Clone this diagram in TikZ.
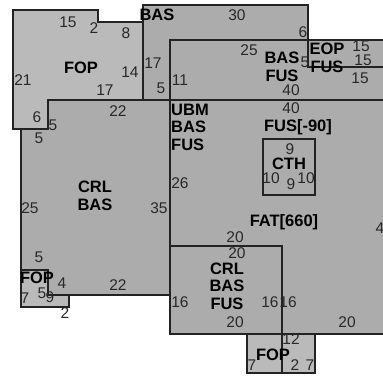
\documentclass[tikz,border=0pt]{standalone}
\usepackage{fontspec}
\setmainfont{Liberation Sans}
\definecolor{partfill}{RGB}{172,172,172}
\definecolor{fopfill}{RGB}{186,186,186}
\definecolor{edge}{RGB}{35,35,35}
\definecolor{dimtext}{RGB}{40,40,40}

\begin{document}
\begin{tikzpicture}[x=1pt, y=-1pt,
    block/.style={draw=edge, line width=1.1pt, fill=partfill},
    fopblock/.style={block, fill=fopfill},
    lbl/.style={font=\fontsize{16.5}{17.5}\selectfont\bfseries, align=center, inner sep=0pt},
    dim/.style={font=\fontsize{15.5}{15.5}\selectfont, text=dimtext, inner sep=0pt}]

    \clip (0,0) rectangle (383,376);
    \fill[white] (0,0) rectangle (383,376);

    % blocks, back to front
    \draw[block] (143,5) rectangle (308,100);
    \draw[block] (21,100) rectangle (170,295);
    \draw[fopblock] (13,10) -- (98,10) -- (98,22) -- (143,22) -- (143,100)
        -- (48,100) -- (48,129) -- (13,129) -- cycle;
    \draw[fopblock] (21,270) -- (48,270) -- (48,295) -- (69,295) -- (69,307)
        -- (21,307) -- cycle;
    \draw[block] (170,40) rectangle (400,100);
    \draw[block] (308,40) rectangle (400,67);
    \draw[block] (170,100) rectangle (400,334);
    \draw[block] (263,139) rectangle (315,195);
    \draw[block] (170,246) rectangle (282,334);
    \draw[fopblock] (247,334) rectangle (315,373);
    \draw[draw=edge, line width=1.1pt] (282,334) -- (282,373);

    % block names
    \node[lbl] (fopTop) at (81,68) {FOP};
    \node[lbl] (basTop) at (157,15) {BAS};
    \node[lbl] (basFus) at (282,67) {BAS\\FUS};
    \node[lbl] (eopFus) at (327,58) {EOP\\FUS};
    \node[lbl, align=left] (ubm) at (190,127) {UBM\\BAS\\FUS};
    \node[lbl] (fus) at (298,127) {FUS[-90]};
    \node[lbl] (cth) at (289,164) {CTH};
    \node[lbl] (fat) at (284,222) {FAT[660]};
    \node[lbl] (crlBas) at (95,196) {CRL\\BAS};
    \node[lbl] (crlBasFus) at (227,286) {CRL\\BAS\\FUS};
    \node[lbl] (fopLeft) at (37,278) {FOP};
    \node[lbl] (fopBottom) at (273,355) {FOP};

    % dimensions
    \foreach [count=\i] \x/\y/\t in {68/22/15, 94/28/2, 126/33/8, 130/72/14,
        105/90/17, 23/80/21, 37/117/6, 53/125/5, 237/15/30, 303/32/6,
        153/63/17, 161/88/5, 180/80/11, 249/50/25, 291/90/40, 361/46/15,
        363/60/15, 305/62/5, 360/78/15, 291/108/40, 290/149/9, 271/178/10,
        291/184/9, 306/178/10, 180/183/26, 159/208/35, 380/228/4, 235/237/20,
        237/253/20, 180/302/16, 270/302/16, 288/302/16, 235/322/20, 347/322/20,
        291/339/12, 252/365/7, 295/365/2, 310/365/7, 118/111/22, 39/138/5,
        30/208/25, 39/257/5, 118/285/22, 62/283/4, 25/298/7, 42/293/5,
        50/297/9, 65/313/2}
        \node[dim] (d\i) at (\x,\y) {\t};
\end{tikzpicture}
\end{document}
